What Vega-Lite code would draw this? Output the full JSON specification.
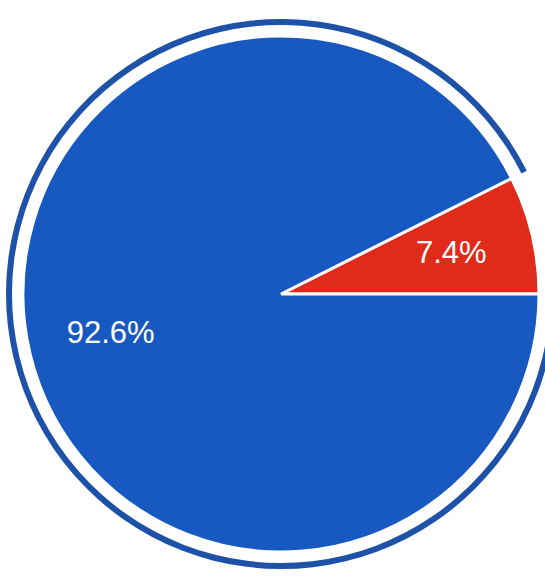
{
  "$schema": "https://vega.github.io/schema/vega-lite/v6.json",
  "width": 528,
  "height": 582,
  "padding": {"left": 17, "top": 3, "right": 0, "bottom": 0},
  "autosize": "none",
  "background": "white",
  "data": {
    "values": [
      {"category": "B", "value": 7.4, "label": "7.4%", "order": 1},
      {"category": "A", "value": 92.6, "label": "92.6%", "order": 2}
    ]
  },
  "encoding": {
    "theta": {"field": "value", "type": "quantitative", "stack": true,
      "scale": {"range": [1.10584, 7.38903]}},
    "order": {"field": "order", "type": "quantitative"}
  },
  "layer": [
    {
      "mark": {"type": "arc", "innerRadius": 269, "outerRadius": 275, "fill": "#1d52a8"},
      "encoding": {
        "opacity": {"condition": {"test": "datum.category === 'A'", "value": 1}, "value": 0}
      }
    },
    {
      "mark": {"type": "arc", "outerRadius": 258, "stroke": "white", "strokeWidth": 3},
      "encoding": {
        "color": {"field": "category", "type": "nominal",
          "scale": {"domain": ["A", "B"], "range": ["#1759c0", "#e02a1a"]}, "legend": null}
      }
    },
    {
      "mark": {"type": "text", "radius": 175, "fontSize": 31, "font": "Liberation Sans", "fill": "white", "align": "center", "baseline": "middle"},
      "encoding": {
        "text": {"field": "label", "type": "nominal"}
      }
    }
  ]
}
